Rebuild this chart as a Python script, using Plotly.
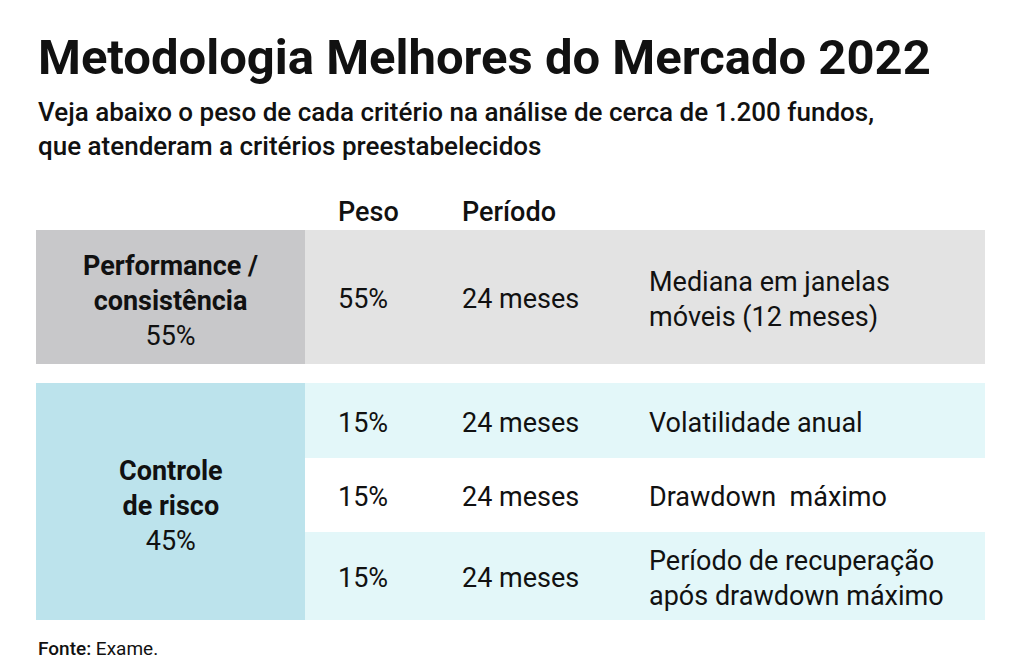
import plotly.graph_objects as go

# =========================
# DATA
# =========================
groups = ["Performance /<br>consistência", "Controle<br>de risco"]
group_weights = ["55%", "45%"]

row_group = [0, 1, 1, 1]
weights = ["55%", "15%", "15%", "15%"]
periods = ["24 meses", "24 meses", "24 meses", "24 meses"]
criteria = [
    "Mediana em janelas<br>móveis (12 meses)",
    "Volatilidade anual",
    "Drawdown  máximo",
    "Período de recuperação<br>após drawdown máximo",
]
headers = ["Peso", "Período"]

# =========================
# STYLE / LAYOUT
# =========================
W, H = 1021, 672
PAGE_PAD = 8  # body margin of the html page
FONT = "Roboto, Inter, Arial"
TEXT = "#111111"
CELL_SIZE = 27

GROUP_BG = ["#c8c8ca", "#bce3ec"]
ROW_BG = ["#e3e3e3", "#e3f7f9", "#ffffff", "#e3f7f9"]

ROW_EDGES = [(230, 364), (383, 458), (458, 532), (532, 620)]
LEFT_X0, LEFT_X1, RIGHT_X1 = 36, 305, 985
COL_X = [336, 460, 647]

fig = go.Figure()
shapes = []
annotations = []

# row backgrounds
for i, (y0, y1) in enumerate(ROW_EDGES):
    shapes.append(dict(type="rect", xref="x", yref="y", x0=LEFT_X1, x1=RIGHT_X1,
                       y0=y0, y1=y1, fillcolor=ROW_BG[i], line=dict(width=0), layer="below"))

# group blocks
for g in range(len(groups)):
    rows = [i for i, r in enumerate(row_group) if r == g]
    y0 = ROW_EDGES[rows[0]][0]
    y1 = ROW_EDGES[rows[-1]][1]
    shapes.append(dict(type="rect", xref="x", yref="y", x0=LEFT_X0, x1=LEFT_X1,
                       y0=y0, y1=y1, fillcolor=GROUP_BG[g], line=dict(width=0), layer="below"))
    annotations.append(dict(
        x=(LEFT_X0 + LEFT_X1) / 2, y=(y0 + y1) / 2 + 4, xref="x", yref="y",
        text=f"<b>{groups[g]}</b><br>{group_weights[g]}",
        showarrow=False, xanchor="center", yanchor="middle", align="center",
        font=dict(family=FONT, size=CELL_SIZE, color=TEXT)
    ))

# headers
for x, h in zip(COL_X, headers):
    annotations.append(dict(x=x, y=212, xref="x", yref="y", text=h, showarrow=False,
                            xanchor="left", yanchor="middle",
                            font=dict(family=FONT, size=CELL_SIZE, color=TEXT, weight=500)))

# cells
for i, (y0, y1) in enumerate(ROW_EDGES):
    yc = (y0 + y1) / 2 + 2
    for x, val in zip(COL_X, [weights[i], periods[i], criteria[i]]):
        annotations.append(dict(x=x, y=yc, xref="x", yref="y", text=val, showarrow=False,
                                xanchor="left", yanchor="middle", align="left",
                                font=dict(family=FONT, size=CELL_SIZE, color=TEXT)))

# title / subtitle / source
annotations.append(dict(x=36, y=57, xref="x", yref="y",
                        text="<b>Metodologia Melhores do Mercado 2022</b>",
                        showarrow=False, xanchor="left", yanchor="middle",
                        font=dict(family=FONT, size=49, color=TEXT)))
annotations.append(dict(x=36, y=129, xref="x", yref="y",
                        text="Veja abaixo o peso de cada critério na análise de cerca de 1.200 fundos,<br>que atenderam a critérios preestabelecidos",
                        showarrow=False, xanchor="left", yanchor="middle", align="left",
                        font=dict(family=FONT, size=26, color=TEXT, weight=500)))
annotations.append(dict(x=36, y=648, xref="x", yref="y",
                        text="<span style='font-weight:500'>Fonte:</span> Exame.",
                        showarrow=False, xanchor="left", yanchor="middle",
                        font=dict(family=FONT, size=19, color=TEXT)))

fig.update_layout(
    width=W, height=H,
    margin=dict(l=0, r=0, t=0, b=0),
    paper_bgcolor="white", plot_bgcolor="white",
    xaxis=dict(range=[PAGE_PAD, W + PAGE_PAD], visible=False, fixedrange=True),
    yaxis=dict(range=[H + PAGE_PAD, PAGE_PAD], visible=False, fixedrange=True),
    shapes=shapes, annotations=annotations,
    showlegend=False,
)

fig.write_html("out.html", config=dict(displayModeBar=False))
